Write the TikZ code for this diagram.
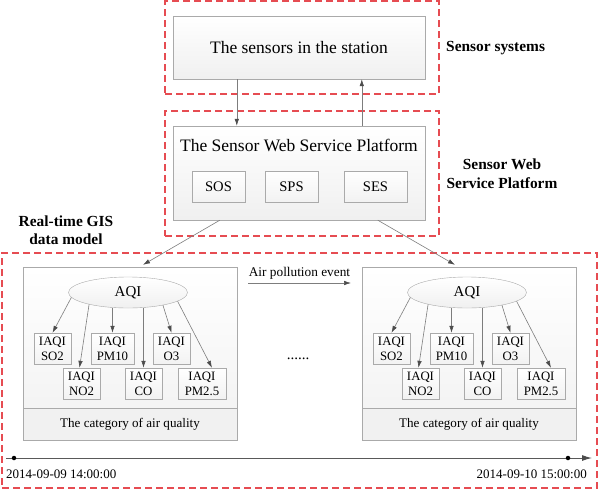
\documentclass[tikz,border=0pt]{standalone}
\usepackage{fontspec}
\setmainfont{Liberation Serif}
\usetikzlibrary{calc,arrows.meta,shapes.geometric}
\definecolor{dred}{RGB}{230,76,82}
\definecolor{bord}{RGB}{170,170,170}
\definecolor{conn}{RGB}{125,125,125}
\newcommand{\fs}[2]{\fontsize{#1}{#2}\selectfont}
\begin{document}
\begin{tikzpicture}[x=1pt,y=-1pt,
  dashbox/.style={draw=dred, line width=1.5pt, dash pattern=on 7pt off 4pt, inner sep=0pt},
  bigbox/.style={draw=bord, top color=white, bottom color=gray!12, inner sep=0pt},
  smallbox/.style={draw=bord, top color=white, bottom color=gray!10, inner sep=0pt, align=center},
  arr/.style={draw=conn, line width=0.6pt, -{Latex[length=7pt,width=4.5pt,color=black!70]}},
  lbl/.style={font=\bfseries\fs{15.4}{19}, align=center, inner sep=0pt}
]
\useasboundingbox (0,0) rectangle (600,490);

% dashed groups
\node[dashbox, minimum width=274pt, minimum height=93pt] (g1) at (302,47.5) {};
\node[dashbox, minimum width=274pt, minimum height=125pt] (g2) at (302,173.5) {};
\node[dashbox, minimum width=595pt, minimum height=235pt] (g3) at (299.5,370.5) {};

% top boxes
\node[bigbox, minimum width=252pt, minimum height=63pt, font=\fs{17.5}{20}] (sensors) at (299,47.5) {The sensors in the station};
\node[bigbox, minimum width=252pt, minimum height=94pt] (plat) at (299,173) {};
\node[font=\fs{17.5}{20}, inner sep=0pt] (plattitle) at (299,145) {The Sensor Web Service Platform};
\node[smallbox, minimum width=53pt, minimum height=31pt, font=\fs{14.6}{17}] (sos) at (218.5,186.5) {SOS};
\node[smallbox, minimum width=53pt, minimum height=31pt, font=\fs{14.6}{17}] (sps) at (291.5,186.5) {SPS};
\node[smallbox, minimum width=63pt, minimum height=31pt, font=\fs{14.6}{17}] (ses) at (375.5,186.5) {SES};

\coordinate (a1) at ($(sensors.south west)+(64,0)$);
\coordinate (a2) at ($(sensors.south west)+(189,0)$);
\draw[arr] (a1) -- (a1 |- plat.north);
\draw[arr] (a2 |- plat.north) -- (a2);

% model blocks
\foreach \n/\dx in {L/0,R/339}{
\begin{scope}[xshift=\dx pt]
  \node[draw=bord, top color=white, bottom color=gray!9, minimum width=214pt, minimum height=141pt, inner sep=0pt] (m\n) at (130,337.5) {};
  \node[draw=bord, fill=gray!11, minimum width=214pt, minimum height=32pt, inner sep=0pt, font=\fs{13.1}{15}] (c\n) at (130,424) {The category of air quality};
  \node[ellipse, draw=bord, top color=white, bottom color=gray!12, minimum width=119pt, minimum height=31pt, inner sep=0pt, font=\fs{15}{17}] (aqi\n) at (128,292.5) {AQI};
  \node[smallbox, minimum width=37pt, minimum height=31pt, font=\fs{12.8}{15}] (so2\n) at (52.5,348.5) {IAQI\\SO2};
  \node[smallbox, minimum width=43pt, minimum height=31pt, font=\fs{12.8}{15}] (pm10\n) at (112.5,348.5) {IAQI\\PM10};
  \node[smallbox, minimum width=37pt, minimum height=31pt, font=\fs{12.8}{15}] (o3\n) at (171.5,348.5) {IAQI\\O3};
  \node[smallbox, minimum width=37pt, minimum height=31pt, font=\fs{12.8}{15}] (no2\n) at (81.5,383.5) {IAQI\\NO2};
  \node[smallbox, minimum width=37pt, minimum height=31pt, font=\fs{12.8}{15}] (co\n) at (143.5,383.5) {IAQI\\CO};
  \node[smallbox, minimum width=48pt, minimum height=31pt, font=\fs{12.8}{15}] (pm25\n) at (202,383.5) {IAQI\\PM2.5};
  \draw[arr] (aqi\n.185) -- (so2\n.north);
  \draw[arr] (aqi\n.197) -- ([xshift=-2pt]no2\n.north);
  \draw[arr] (aqi\n.south -| pm10\n.north) -- (pm10\n.north);
  \draw[arr] (aqi\n.south -| co\n.north) -- (co\n.north);
  \draw[arr] (aqi\n.340) -- (o3\n.north);
  \draw[arr] (aqi\n.350) -- ([xshift=10pt]pm25\n.north);
\end{scope}
}

% platform to models
\draw[arr] ($(plat.south west)+(47,0)$) -- ($(mL.north)+(13,-2)$);
\draw[arr] ($(plat.south west)+(205,0)$) -- ($(mR.north)+(-14,-2)$);

% event arrow
\coordinate (e0) at (248,283);
\coordinate (e1) at (351,283);
\draw[arr] (e0) -- (e1);
\node[font=\fs{13.3}{15}, inner sep=0pt] (evt) at (299.5,273) {Air pollution event};
\node[font=\fs{15}{17}, inner sep=0pt, anchor=base] (dots) at (298,359) {......};

% timeline
\coordinate (t0) at (6,458);
\coordinate (t1) at (592,458);
\draw[line width=1pt, draw=black!65, -{Latex[length=10pt,width=6pt,color=black!70]}] (t0) -- (t1);
\node[circle, fill=black, inner sep=0pt, minimum size=4.5pt] (d0) at (14,458) {};
\node[circle, fill=black, inner sep=0pt, minimum size=4.5pt] (d1) at (568,458) {};
\node[anchor=west, font=\fs{13}{15}, inner sep=0pt] (date0) at (6,474) {2014-09-09 14:00:00};
\node[anchor=east, font=\fs{13}{15}, inner sep=0pt] (date1) at (587,474) {2014-09-10 15:00:00};

% labels
\node[lbl, anchor=west] (lab1) at (446,48) {Sensor systems};
\node[lbl] (lab2) at (502,173.5) {Sensor Web\\Service Platform};
\node[lbl, font=\bfseries\fs{15.4}{18}] (lab3) at (66,230) {Real-time GIS\\data model};
\end{tikzpicture}
\end{document}
